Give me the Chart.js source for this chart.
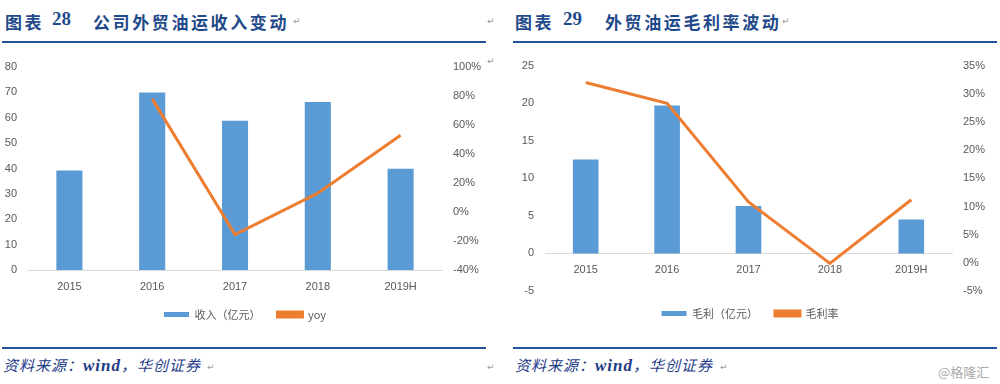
<!DOCTYPE html>
<html>
<head>
<meta charset="utf-8">
<script src="https://cdn.jsdelivr.net/npm/chart.js@4.4.1/dist/chart.umd.min.js"></script>
<style>
  body { margin: 0; width: 1000px; height: 384px; background: #fff; position: relative; overflow: hidden; }
  .t { position: absolute; top: 9px; color: #1f4a8a; font-weight: bold; font-size: 17px; letter-spacing: 2.6px; font-family: "Noto Sans CJK SC", sans-serif; white-space: nowrap; }
  .num { font-family: "Liberation Serif", serif; font-size: 19px; letter-spacing: 0; }
  .rule { position: absolute; height: 2px; background: #23539b; }
  .src { position: absolute; top: 354px; color: #1f3c88; font-size: 15px; font-style: italic; letter-spacing: 1px; font-family: "Noto Sans CJK SC", sans-serif; white-space: nowrap; }
  .src i { font-family: "Liberation Serif", serif; font-size: 17px; font-weight: bold; }
  .pm { position: absolute; color: #999; font-size: 9px; font-family: "DejaVu Sans", sans-serif; }
  .box { position: absolute; top: 48px; }
</style>
</head>
<body>
<div class="t" style="left:5px">图表</div>
<div class="t num" style="left:52px;top:8px">28</div>
<div class="t" style="left:93px">公司外贸油运收入变动</div>
<div class="pm" style="left:293px;top:16px">↵</div>
<div class="pm" style="left:487px;top:16px">↵</div>
<div class="pm" style="left:487px;top:56px">↵</div>
<div class="rule" style="left:2px;top:41px;width:484px"></div>

<div class="t" style="left:515px">图表</div>
<div class="t num" style="left:563px;top:8px">29</div>
<div class="t" style="left:605px">外贸油运毛利率波动</div>
<div class="pm" style="left:782px;top:16px">↵</div>
<div class="rule" style="left:513px;top:41px;width:484px"></div>

<div class="box" style="left:0;width:490px;height:282px"><canvas id="chart28"></canvas></div>
<div class="box" style="left:500px;width:500px;height:281px"><canvas id="chart29"></canvas></div>

<div class="rule" style="left:2px;top:347px;width:484px"></div>
<div class="rule" style="left:513px;top:347px;width:484px"></div>
<div class="src" style="left:3px">资料来源：<i>wind</i>，华创证券</div>
<div class="pm" style="left:207px;top:362px">↵</div>
<div class="pm" style="left:487px;top:362px">↵</div>
<div class="src" style="left:515px">资料来源：<i>wind</i>，华创证券</div>
<div class="pm" style="left:720px;top:362px">↵</div>
<div style="position:absolute;left:938px;top:362px;color:#aaa;font-size:13px;font-family:'Noto Sans CJK SC',sans-serif">@格隆汇</div>

<script>
// 数据
const years = ['2015', '2016', '2017', '2018', '2019H'];
const revenue = [39.2, 70.0, 58.8, 66.2, 39.9];        // 收入（亿元）
const revenueYoy = [null, 78, -15.5, 13, 53];           // yoy %
const grossProfit = [12.5, 19.7, 6.3, 0, 4.5];          // 毛利（亿元）
const grossMargin = [32, 28.3, 10.8, -0.1, 11.2];       // 毛利率 %

const blue = '#5b9bd5';
const orange = '#ed7d31';
const grey = '#595959';
const tickFont = { family: '"Liberation Sans", "Noto Sans CJK SC", sans-serif', size: 11 };

function makeChart(id, barLabel, barData, lineLabel, lineData, opt) {
    const ctx = document.getElementById(id).getContext('2d');
    const xScale = {
        position: opt.xPos,
        grid: { display: false, drawTicks: false },
        border: { display: true, color: '#d9d9d9', width: 1 },
        ticks: { color: grey, font: tickFont, padding: opt.xPad }
    };
    if (opt.xH !== undefined) xScale.afterFit = axis => { axis.height = opt.xH; };

    return new Chart(ctx, {
        type: 'bar',
        data: {
            labels: years,
            datasets: [{
                label: barLabel,
                data: barData,
                backgroundColor: blue,
                categoryPercentage: 1,
                barPercentage: 0.315,
                yAxisID: 'y',
                order: 1
            }, {
                type: 'line',
                label: lineLabel,
                data: lineData,
                borderColor: orange,
                backgroundColor: orange,
                borderWidth: 3,
                pointRadius: 0,
                tension: 0,
                yAxisID: 'y1',
                order: 0
            }]
        },
        options: {
            responsive: true,
            maintainAspectRatio: false,
            animation: false,
            layout: { padding: { top: opt.padTop, left: 0, right: 0, bottom: 0 } },
            plugins: {
                tooltip: { enabled: false },
                legend: {
                    position: 'bottom',
                    labels: {
                        boxWidth: 25,
                        boxHeight: 5,
                        padding: 17,
                        color: grey,
                        font: { family: '"Noto Sans CJK SC", sans-serif', size: 11 },
                        sort: (a, b) => a.datasetIndex - b.datasetIndex
                    }
                }
            },
            scales: {
                x: xScale,
                y: {
                    position: 'left',
                    min: opt.yMin, max: opt.yMax,
                    grid: { display: false, drawTicks: false },
                    border: { display: false },
                    ticks: { stepSize: opt.yStep, color: grey, font: tickFont, padding: 11 },
                    afterFit: axis => { axis.width = opt.leftW; }
                },
                y1: {
                    position: 'right',
                    min: opt.y1Min, max: opt.y1Max,
                    grid: { display: false, drawTicks: false },
                    border: { display: false },
                    ticks: {
                        stepSize: opt.y1Step, color: grey, font: tickFont, padding: 11,
                        callback: v => v + '%'
                    },
                    afterFit: axis => { axis.width = opt.rightW; }
                }
            }
        }
    });
}

makeChart('chart28', '收入（亿元）', revenue, 'yoy', revenueYoy, {
    padTop: 19, xPos: 'bottom', xPad: 10, xH: 22,
    yMin: 0, yMax: 80, yStep: 10,
    y1Min: -40, y1Max: 100, y1Step: 20,
    leftW: 28, rightW: 48
});

makeChart('chart29', '毛利（亿元）', grossProfit, '毛利率', grossMargin, {
    padTop: 9, xPos: { y: 0 }, xPad: 10,
    yMin: -5, yMax: 25, yStep: 5,
    y1Min: -5, y1Max: 35, y1Step: 5,
    leftW: 45, rightW: 48
});
</script>
</body>
</html>
